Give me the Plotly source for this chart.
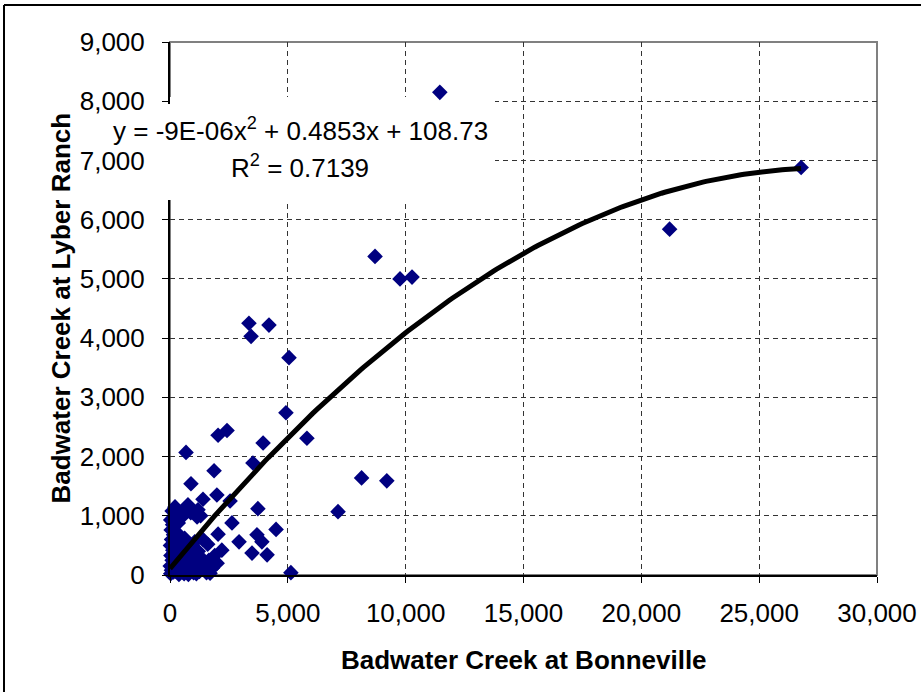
import numpy as np
import plotly.graph_objects as go

# ---- data ----
bonneville = [
    11450, 26780, 21200, 8700, 9760, 10270,
    3350, 4200, 3440, 5050, 4920, 5810, 3950, 3520, 2040, 2420, 680, 1870,
    8130, 9200, 890, 7130, 1400, 1990, 2550, 3730, 2630, 2040, 2930, 3690,
    3900, 4500, 3480, 4120, 5130, 2200,
    # dense cluster near the origin
    30, 60, 10, 90, 40, 120, 20, 80, 150, 50, 110, 30, 180, 90, 220,
    260, 300, 250, 320, 280, 350, 200,
    420, 500, 450, 560, 480, 620, 700, 760, 680, 820, 900, 640, 760, 560, 880, 950,
    1000, 1100, 1250, 1350, 1450, 1550, 1200, 1050, 1650, 1800, 1900, 1400,
    212, 764, 1188, 636, 1150, 1300, 1600, 2000, 1700,
    380, 600, 150, 330, 520, 700, 850, 980, 1120, 250, 430, 70, 170, 300, 600, 780,
]
lyber = [
    8150, 6880, 5840, 5380, 5000, 5030,
    4250, 4220, 4030, 3670, 2740, 2310, 2230, 1890, 2360, 2440, 2070, 1760,
    1640, 1590, 1540, 1070, 1280, 1350, 1250, 1120, 880, 690, 560, 680,
    560, 770, 370, 340, 40, 420,
    20, 80, 150, 250, 330, 420, 500, 600, 680, 760, 850, 930, 1000, 1080, 1140,
    60, 180, 300, 520, 720, 880, 240,
    40, 120, 260, 380, 520, 620, 80, 200, 300, 460, 140, 1120, 1180, 1000, 1050, 330,
    40, 180, 60, 280, 120, 40, 400, 560, 250, 120, 330, 600,
    1150, 1180, 1100, 1050, 980, 1000, 520, 200, 30,
    10, 20, 50, 100, 50, 150, 60, 250, 20, 450, 180, 600, 380, 650, 450, 10,
]

# polynomial trendline (c2, c1, c0), as drawn in the reference
trend_coeffs = [-8.7e-06, 0.4853, 108.73]
equation_text = "y = -9E-06x<sup>2</sup> + 0.4853x + 108.73"
r2_text = "R<sup>2</sup> = 0.7139"

x_title = "Badwater Creek at Bonneville"
y_title = "Badwater Creek at Lyber Ranch"

x_range = [0, 30000]
y_range = [0, 9000]

FONT = "Liberation Sans, Arial, sans-serif"

trend_x = np.linspace(0, max(bonneville), 200)
trend_y = np.polyval(trend_coeffs, trend_x)

fig = go.Figure()
fig.add_trace(go.Scatter(
    x=bonneville, y=lyber, mode="markers",
    marker=dict(symbol="diamond", size=12, color="#000080", line=dict(width=0)),
    cliponaxis=False,
))
fig.add_trace(go.Scatter(
    x=trend_x, y=trend_y, mode="lines",
    line=dict(color="black", width=5), hoverinfo="skip", cliponaxis=False,
))

W, H = 921, 692
L, R, T, B = 170, 44, 42, 117
pw, ph = W - L - R, H - T - B

def px_x(p):
    return (p - L) / pw

def px_y(p):
    return (H - B - p) / ph

def data_x(p):
    return x_range[0] + (p - L) / pw * (x_range[1] - x_range[0])

def data_y(p):
    return y_range[0] + (H - B - p) / ph * (y_range[1] - y_range[0])

grid = dict(showgrid=True, gridcolor="#333333", gridwidth=1, griddash="5px,4px")

fig.update_layout(
    width=W, height=H,
    margin=dict(l=L, r=R, t=T, b=B, autoexpand=False),
    paper_bgcolor="white", plot_bgcolor="white",
    showlegend=False,
    font=dict(family=FONT, size=26, color="black"),
    xaxis=dict(range=x_range, dtick=5000, tickformat=",d", zeroline=False,
               showline=True, linecolor="black", linewidth=2, automargin=False,
               ticks="outside", ticklen=6, tickcolor="black", tickwidth=1,
               ticklabelstandoff=8, **grid),
    yaxis=dict(range=y_range, dtick=1000, tickformat=",d", zeroline=False,
               showline=True, linecolor="black", linewidth=2, automargin=False,
               ticks="outside", ticklen=6, tickcolor="black", tickwidth=1,
               ticklabelstandoff=12, **grid),
    shapes=[
        # plot-area border (top/right gray)
        dict(type="rect", xref="paper", yref="paper", x0=0, x1=1, y0=0, y1=1,
             line=dict(color="#808080", width=2), layer="below"),
        # white box behind the equation (hides gridlines, below the markers)
        dict(type="rect", xref="x", yref="y",
             x0=x_range[0], x1=data_x(495), y0=data_y(200), y1=data_y(97),
             fillcolor="white", line=dict(width=0), layer="between"),
        # the box also hides the y axis line segment
        dict(type="rect", xref="paper", yref="paper",
             x0=px_x(162), x1=px_x(173), y0=px_y(200), y1=px_y(104),
             fillcolor="white", line=dict(width=0), layer="above"),
        # outer chart frame (top and left visible)
        dict(type="line", xref="paper", yref="paper",
             x0=px_x(4), x1=px_x(960), y0=px_y(5), y1=px_y(5),
             line=dict(color="black", width=2)),
        dict(type="line", xref="paper", yref="paper",
             x0=px_x(4), x1=px_x(4), y0=px_y(5), y1=px_y(720),
             line=dict(color="black", width=2)),
    ],
    annotations=[
        dict(text=equation_text, xref="paper", yref="paper",
             x=px_x(300), y=px_y(129), showarrow=False,
             xanchor="center", yanchor="middle", font=dict(size=26)),
        dict(text=r2_text, xref="paper", yref="paper",
             x=px_x(300), y=px_y(166), showarrow=False,
             xanchor="center", yanchor="middle", font=dict(size=26)),
        dict(text="<b>" + x_title + "</b>", xref="paper", yref="paper",
             x=0.5, y=px_y(660), showarrow=False,
             xanchor="center", yanchor="middle", font=dict(size=26)),
        dict(text="<b>" + y_title + "</b>", xref="paper", yref="paper",
             x=px_x(60), y=0.5, showarrow=False, textangle=-90,
             xanchor="center", yanchor="middle", font=dict(size=26)),
    ],
)

fig.write_html("out.html", config={"displayModeBar": False},
               post_script="document.body.style.margin='0';")
